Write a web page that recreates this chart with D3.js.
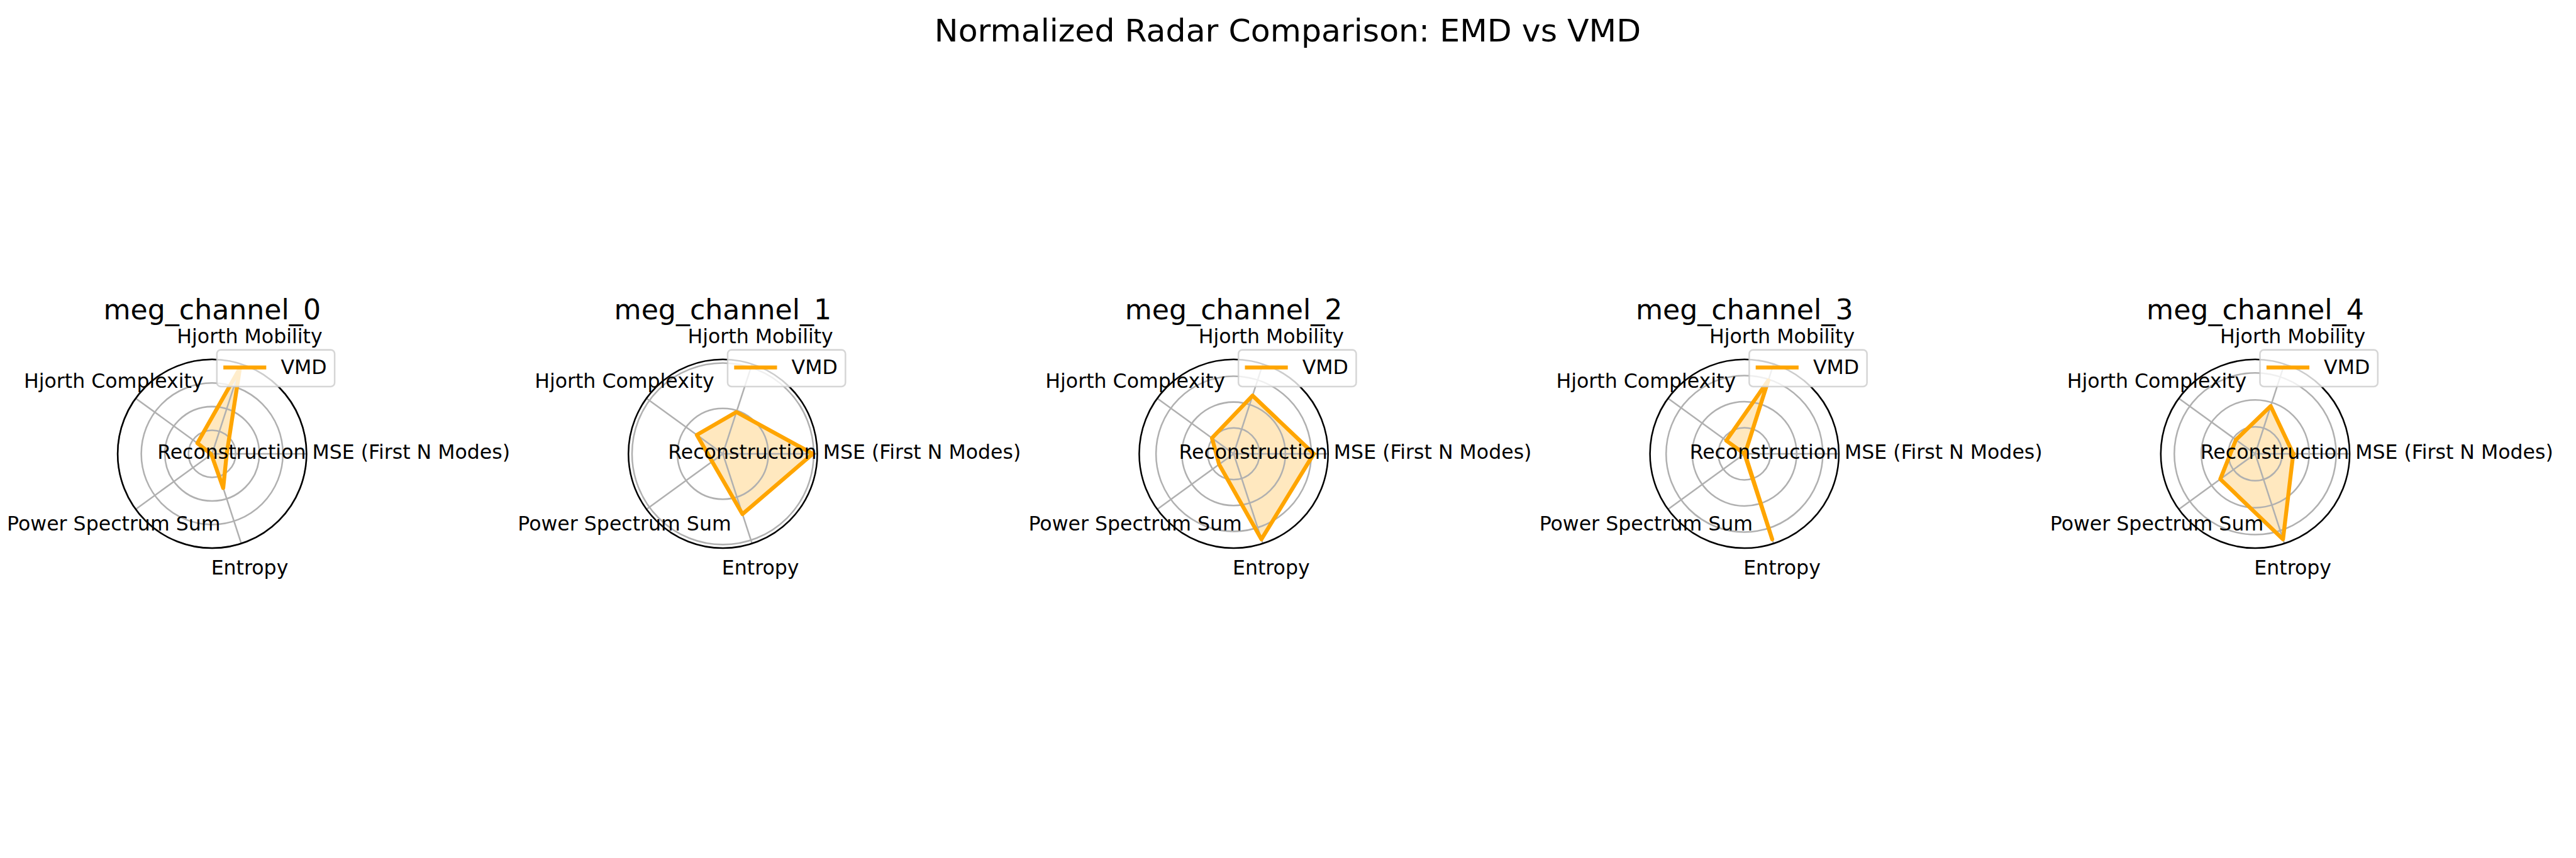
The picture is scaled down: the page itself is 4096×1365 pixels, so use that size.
<!DOCTYPE html>
<html>
<head>
<meta charset="utf-8">
<script src="https://cdn.jsdelivr.net/npm/d3@7"></script>
<style>
  html, body { margin: 0; padding: 0; background: #ffffff; overflow: hidden; }
  svg { display: block; }
</style>
</head>
<body>
<div id="chart"></div>
<script>
// ---------- data ----------
const figureTitle = "Normalized Radar Comparison: EMD vs VMD";
const categories = [
  "Reconstruction MSE (First N Modes)",
  "Hjorth Mobility",
  "Hjorth Complexity",
  "Power Spectrum Sum",
  "Entropy"
];
const channels = ["meg_channel_0", "meg_channel_1", "meg_channel_2", "meg_channel_3", "meg_channel_4"];
const seriesName = "VMD";
// values in category order: MSE, Mobility, Complexity, Power Spectrum Sum, Entropy
const vmd_ch0 = [0.124, 0.762, 0.154, 0.008, 0.305];
const vmd_ch1 = [0.990, 0.483, 0.354, 0.146, 0.699];
const vmd_ch2 = [0.619, 0.473, 0.207, 0.139, 0.695];
const vmd_ch3 = [0.004, 0.591, 0.172, 0.000, 0.689];
const vmd_ch4 = [0.282, 0.372, 0.177, 0.320, 0.667];
const vmdValues = [vmd_ch0, vmd_ch1, vmd_ch2, vmd_ch3, vmd_ch4];

// ---------- layout (reference pixel space, scaled by viewBox) ----------
const W = 5400, H = 1800;
const R = 198;                 // polar radius
const firstCx = 444.7, stepCx = 1071, cy = 952;
const labelR = 255;
const FONT = "DejaVu Sans, Liberation Sans, sans-serif";
const tickFs = 41.67, titleFs = 58.33, supFs = 66.67;
const lineColor = "#FFA500";
const gridColor = "#b0b0b0";

const svg = d3.select("#chart").append("svg")
  .attr("width", 4096).attr("height", 1365)
  .attr("viewBox", `0 0 ${W} ${H}`)
  .attr("preserveAspectRatio", "xMinYMin meet")
  .style("font-family", FONT);

svg.append("rect").attr("width", W).attr("height", H).attr("fill", "#ffffff");

svg.append("text")
  .attr("x", W / 2).attr("y", 87)
  .attr("text-anchor", "middle")
  .attr("font-size", supFs)
  .attr("fill", "#000")
  .text(figureTitle);

const n = categories.length;
// index -> d3 radial angle (0 = up, clockwise); index 0 points east, counter-clockwise
const angle = d3.scaleLinear().domain([0, n]).range([Math.PI / 2, Math.PI / 2 - 2 * Math.PI]);

channels.forEach((ch, i) => {
  const vals = vmdValues[i];
  const cx = firstCx + stepCx * i;
  const g = svg.append("g").attr("transform", `translate(${cx},${cy})`);

  const rScale = d3.scaleLinear().domain([0, 1.05 * d3.max(vals)]).range([0, R]);

  // fill
  const closed = d3.lineRadial()
    .angle((d, j) => angle(j))
    .radius(d => rScale(d))
    .curve(d3.curveLinearClosed);
  g.append("path")
    .attr("d", closed(vals))
    .attr("fill", lineColor)
    .attr("fill-opacity", 0.25)
    .attr("stroke", "none");

  // grid rings
  const ticks = rScale.ticks(3).filter(t => t > 0);
  g.selectAll("circle.ring").data(ticks).enter().append("circle")
    .attr("class", "ring")
    .attr("r", d => rScale(d))
    .attr("fill", "none")
    .attr("stroke", gridColor)
    .attr("stroke-width", 3.33);

  // spokes
  g.selectAll("line.spoke").data(categories).enter().append("line")
    .attr("class", "spoke")
    .attr("x1", 0).attr("y1", 0)
    .attr("x2", (d, j) => R * Math.sin(angle(j)))
    .attr("y2", (d, j) => -R * Math.cos(angle(j)))
    .attr("stroke", gridColor)
    .attr("stroke-width", 3.33);

  // outline
  const open = d3.lineRadial()
    .angle((d, j) => angle(j))
    .radius(d => rScale(d));
  g.append("path")
    .attr("d", open(vals.concat([vals[0]])))
    .attr("fill", "none")
    .attr("stroke", lineColor)
    .attr("stroke-width", 8.33)
    .attr("stroke-linejoin", "round")
    .attr("stroke-linecap", "square");

  // spine
  g.append("circle")
    .attr("r", R)
    .attr("fill", "none")
    .attr("stroke", "#000")
    .attr("stroke-width", 3.33);

  // category labels
  g.selectAll("text.cat").data(categories).enter().append("text")
    .attr("class", "cat")
    .attr("x", (d, j) => labelR * Math.sin(angle(j)))
    .attr("y", (d, j) => -labelR * Math.cos(angle(j)) + 10.9)
    .attr("text-anchor", "middle")
    .attr("font-size", tickFs)
    .attr("fill", "#000")
    .text(d => d);

  // title
  g.append("text")
    .attr("x", 0).attr("y", -281.5)
    .attr("text-anchor", "middle")
    .attr("font-size", titleFs)
    .attr("fill", "#000")
    .text(ch);

  // legend
  const lg = g.append("g");
  lg.append("rect")
    .attr("x", 10).attr("y", -218)
    .attr("width", 247).attr("height", 77)
    .attr("rx", 8.3).attr("ry", 8.3)
    .attr("fill", "#ffffff").attr("fill-opacity", 0.8)
    .attr("stroke", "#cccccc").attr("stroke-opacity", 0.8)
    .attr("stroke-width", 3.33);
  lg.append("line")
    .attr("x1", 27.8).attr("x2", 109.4)
    .attr("y1", -181).attr("y2", -181)
    .attr("stroke", lineColor)
    .attr("stroke-width", 8.33)
    .attr("stroke-linecap", "square");
  lg.append("text")
    .attr("x", 144).attr("y", -167.7)
    .attr("font-size", tickFs)
    .attr("fill", "#000")
    .text(seriesName);
});
</script>
</body>
</html>
